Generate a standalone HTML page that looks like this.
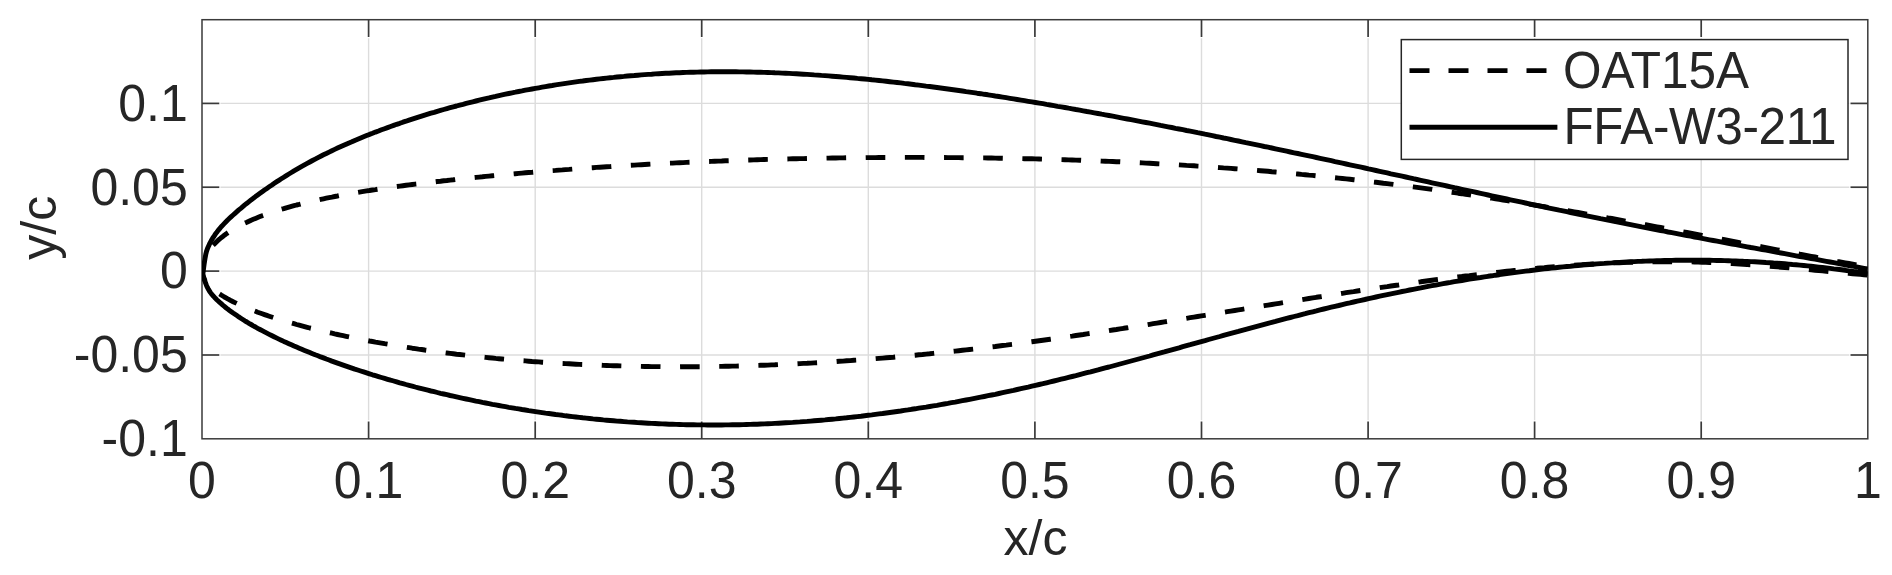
<!DOCTYPE html>
<html lang="en">
<head>
<meta charset="utf-8">
<title>Airfoil comparison: OAT15A vs FFA-W3-211</title>
<style>
html,body{margin:0;padding:0;background:#fff;}
body{width:1892px;height:575px;overflow:hidden;}
svg{display:block;}
text{font-family:"Liberation Sans",Arial,Helvetica,sans-serif;fill:#262626;}
.tick{font-size:50.0px;}
.leg{font-size:49.5px;}
.lab{font-size:50.0px;}
</style>
</head>
<body>
<svg width="1892" height="575" viewBox="0 0 1892 575">
<rect x="0" y="0" width="1892" height="575" fill="#ffffff"/>
<defs><clipPath id="ax"><rect x="202.0" y="19.7" width="1665.8" height="419.1"/></clipPath></defs>

<g stroke="#dcdcdc" stroke-width="1.4" fill="none">
<line x1="368.6" y1="38.2" x2="368.6" y2="420.3"/>
<line x1="535.2" y1="38.2" x2="535.2" y2="420.3"/>
<line x1="701.7" y1="38.2" x2="701.7" y2="420.3"/>
<line x1="868.3" y1="38.2" x2="868.3" y2="420.3"/>
<line x1="1034.9" y1="38.2" x2="1034.9" y2="420.3"/>
<line x1="1201.5" y1="38.2" x2="1201.5" y2="420.3"/>
<line x1="1368.1" y1="38.2" x2="1368.1" y2="420.3"/>
<line x1="1534.6" y1="38.2" x2="1534.6" y2="420.3"/>
<line x1="1701.2" y1="38.2" x2="1701.2" y2="420.3"/>
<line x1="220.5" y1="103.4" x2="1849.3" y2="103.4"/>
<line x1="220.5" y1="187.2" x2="1849.3" y2="187.2"/>
<line x1="220.5" y1="271.1" x2="1849.3" y2="271.1"/>
<line x1="220.5" y1="355.0" x2="1849.3" y2="355.0"/>
</g>
<g stroke="#3a3a3a" fill="none">
<rect x="202.0" y="19.7" width="1665.8" height="419.1" stroke-width="1.5"/>
<g stroke-width="1.7">
<line x1="368.6" y1="438.8" x2="368.6" y2="421.5"/>
<line x1="368.6" y1="19.7" x2="368.6" y2="37.0"/>
<line x1="535.2" y1="438.8" x2="535.2" y2="421.5"/>
<line x1="535.2" y1="19.7" x2="535.2" y2="37.0"/>
<line x1="701.7" y1="438.8" x2="701.7" y2="421.5"/>
<line x1="701.7" y1="19.7" x2="701.7" y2="37.0"/>
<line x1="868.3" y1="438.8" x2="868.3" y2="421.5"/>
<line x1="868.3" y1="19.7" x2="868.3" y2="37.0"/>
<line x1="1034.9" y1="438.8" x2="1034.9" y2="421.5"/>
<line x1="1034.9" y1="19.7" x2="1034.9" y2="37.0"/>
<line x1="1201.5" y1="438.8" x2="1201.5" y2="421.5"/>
<line x1="1201.5" y1="19.7" x2="1201.5" y2="37.0"/>
<line x1="1368.1" y1="438.8" x2="1368.1" y2="421.5"/>
<line x1="1368.1" y1="19.7" x2="1368.1" y2="37.0"/>
<line x1="1534.6" y1="438.8" x2="1534.6" y2="421.5"/>
<line x1="1534.6" y1="19.7" x2="1534.6" y2="37.0"/>
<line x1="1701.2" y1="438.8" x2="1701.2" y2="421.5"/>
<line x1="1701.2" y1="19.7" x2="1701.2" y2="37.0"/>
<line x1="202.0" y1="103.4" x2="219.3" y2="103.4"/>
<line x1="1867.8" y1="103.4" x2="1850.5" y2="103.4"/>
<line x1="202.0" y1="187.2" x2="219.3" y2="187.2"/>
<line x1="1867.8" y1="187.2" x2="1850.5" y2="187.2"/>
<line x1="202.0" y1="271.1" x2="219.3" y2="271.1"/>
<line x1="1867.8" y1="271.1" x2="1850.5" y2="271.1"/>
<line x1="202.0" y1="355.0" x2="219.3" y2="355.0"/>
<line x1="1867.8" y1="355.0" x2="1850.5" y2="355.0"/>
</g></g>
<g clip-path="url(#ax)" fill="none" stroke="#000" stroke-width="4.9" stroke-linejoin="round">
<path d="M1867.8,267.1 L1864.0,266.3 L1860.3,265.6 L1856.5,264.9 L1852.7,264.2 L1848.9,263.5 L1845.2,262.8 L1841.4,262.1 L1837.6,261.4 L1833.8,260.6 L1830.1,259.9 L1826.3,259.2 L1822.5,258.5 L1818.8,257.8 L1815.0,257.0 L1811.2,256.3 L1807.5,255.6 L1803.7,254.9 L1799.9,254.2 L1796.1,253.4 L1792.4,252.7 L1788.6,252.0 L1784.8,251.3 L1781.1,250.5 L1777.3,249.8 L1773.5,249.1 L1769.8,248.4 L1766.0,247.6 L1762.2,246.9 L1758.5,246.2 L1754.7,245.5 L1750.9,244.7 L1747.2,244.0 L1743.4,243.3 L1739.6,242.6 L1735.9,241.8 L1732.1,241.1 L1728.3,240.4 L1724.6,239.7 L1720.8,238.9 L1717.0,238.2 L1713.3,237.5 L1709.5,236.8 L1705.8,236.1 L1702.0,235.4 L1698.2,234.6 L1694.5,233.9 L1690.7,233.2 L1686.9,232.5 L1683.2,231.8 L1679.4,231.1 L1675.7,230.4 L1671.9,229.7 L1668.1,228.9 L1664.4,228.2 L1660.6,227.5 L1656.9,226.8 L1653.1,226.1 L1649.4,225.4 L1645.6,224.7 L1641.8,224.0 L1638.1,223.3 L1634.3,222.7 L1630.6,222.0 L1626.8,221.3 L1623.1,220.6 L1619.3,219.9 L1615.5,219.2 L1611.8,218.5 L1608.0,217.9 L1604.3,217.2 L1600.5,216.5 L1596.8,215.8 L1593.0,215.2 L1589.3,214.5 L1585.5,213.8 L1581.8,213.2 L1578.0,212.5 L1574.3,211.9 L1570.5,211.2 L1566.8,210.6 L1563.0,209.9 L1559.2,209.3 L1555.5,208.6 L1551.7,208.0 L1548.0,207.4 L1544.3,206.7 L1540.5,206.1 L1536.8,205.5 L1533.0,204.8 L1529.3,204.2 L1525.5,203.6 L1521.8,203.0 L1518.0,202.4 L1514.3,201.8 L1510.5,201.2 L1506.8,200.6 L1503.0,200.0 L1499.3,199.4 L1495.6,198.8 L1491.8,198.2 L1488.1,197.6 L1484.3,197.1 L1480.6,196.5 L1476.8,195.9 L1473.1,195.4 L1469.4,194.8 L1465.6,194.3 L1461.9,193.7 L1458.1,193.2 L1454.4,192.6 L1450.7,192.1 L1446.9,191.5 L1443.2,191.0 L1439.4,190.5 L1435.7,190.0 L1432.0,189.4 L1428.2,188.9 L1424.5,188.4 L1420.8,187.9 L1417.0,187.4 L1413.3,186.9 L1409.6,186.5 L1405.8,186.0 L1402.1,185.5 L1398.4,185.0 L1394.6,184.6 L1390.9,184.1 L1387.2,183.6 L1383.4,183.2 L1379.7,182.7 L1376.0,182.3 L1372.2,181.9 L1368.5,181.4 L1364.8,181.0 L1361.1,180.6 L1357.3,180.1 L1353.6,179.7 L1349.9,179.3 L1346.2,178.9 L1342.4,178.5 L1338.7,178.1 L1335.0,177.7 L1331.3,177.3 L1327.5,176.9 L1323.8,176.5 L1320.1,176.2 L1316.4,175.8 L1312.7,175.4 L1308.9,175.1 L1305.2,174.7 L1301.5,174.4 L1297.8,174.0 L1294.1,173.7 L1290.3,173.3 L1286.6,173.0 L1282.9,172.6 L1279.2,172.3 L1275.5,172.0 L1271.8,171.7 L1268.0,171.3 L1264.3,171.0 L1260.6,170.7 L1256.9,170.4 L1253.2,170.1 L1249.5,169.8 L1245.8,169.5 L1242.1,169.2 L1238.4,169.0 L1234.7,168.7 L1230.9,168.4 L1227.2,168.1 L1223.5,167.9 L1219.8,167.6 L1216.1,167.3 L1212.4,167.1 L1208.7,166.8 L1205.0,166.6 L1201.3,166.3 L1197.6,166.1 L1193.9,165.8 L1190.2,165.6 L1186.5,165.4 L1182.8,165.1 L1179.1,164.9 L1175.4,164.7 L1171.7,164.5 L1168.0,164.3 L1164.3,164.1 L1160.6,163.9 L1156.9,163.7 L1153.2,163.5 L1149.6,163.3 L1145.9,163.1 L1142.2,162.9 L1138.5,162.7 L1134.8,162.5 L1131.1,162.3 L1127.4,162.2 L1123.7,162.0 L1120.0,161.8 L1116.4,161.7 L1112.7,161.5 L1109.0,161.4 L1105.3,161.2 L1101.6,161.1 L1098.0,160.9 L1094.3,160.8 L1090.6,160.6 L1086.9,160.5 L1083.2,160.4 L1079.6,160.2 L1075.9,160.1 L1072.2,160.0 L1068.5,159.9 L1064.9,159.7 L1061.2,159.6 L1057.5,159.5 L1053.9,159.4 L1050.2,159.3 L1046.5,159.2 L1042.9,159.1 L1039.2,159.0 L1035.5,158.9 L1031.9,158.8 L1028.2,158.7 L1024.5,158.7 L1020.9,158.6 L1017.2,158.5 L1013.6,158.4 L1009.9,158.3 L1006.2,158.3 L1002.6,158.2 L998.9,158.2 L995.3,158.1 L991.6,158.0 L988.0,158.0 L984.3,157.9 L980.7,157.9 L977.0,157.8 L973.4,157.8 L969.7,157.7 L966.1,157.7 L962.4,157.7 L958.8,157.6 L955.2,157.6 L951.5,157.6 L947.9,157.6 L944.2,157.5 L940.6,157.5 L937.0,157.5 L933.3,157.5 L929.7,157.5 L926.1,157.5 L922.5,157.4 L918.8,157.4 L915.2,157.4 L911.6,157.4 L907.9,157.4 L904.3,157.4 L900.7,157.4 L897.1,157.5 L893.5,157.5 L889.8,157.5 L886.2,157.5 L882.6,157.5 L879.0,157.5 L875.4,157.6 L871.8,157.6 L868.2,157.6 L864.6,157.7 L861.0,157.7 L857.4,157.7 L853.8,157.8 L850.2,157.8 L846.6,157.8 L843.0,157.9 L839.4,157.9 L835.8,158.0 L832.2,158.0 L828.6,158.1 L825.0,158.2 L821.4,158.2 L817.8,158.3 L814.2,158.4 L810.7,158.4 L807.1,158.5 L803.5,158.6 L799.9,158.6 L796.4,158.7 L792.8,158.8 L789.2,158.9 L785.6,159.0 L782.1,159.1 L778.5,159.1 L774.9,159.2 L771.4,159.3 L767.8,159.4 L764.3,159.5 L760.7,159.6 L757.2,159.7 L753.6,159.9 L750.1,160.0 L746.5,160.1 L743.0,160.2 L739.4,160.3 L735.9,160.4 L732.3,160.6 L728.8,160.7 L725.3,160.8 L721.7,161.0 L718.2,161.1 L714.7,161.2 L711.2,161.4 L707.6,161.5 L704.1,161.7 L700.6,161.8 L697.1,161.9 L693.6,162.1 L690.1,162.3 L686.6,162.4 L683.1,162.6 L679.6,162.7 L676.1,162.9 L672.6,163.1 L669.1,163.2 L665.6,163.4 L662.1,163.6 L658.6,163.8 L655.1,164.0 L651.6,164.1 L648.2,164.3 L644.7,164.5 L641.2,164.7 L637.8,164.9 L634.3,165.1 L630.8,165.3 L627.4,165.5 L623.9,165.7 L620.5,165.9 L617.0,166.1 L613.6,166.3 L610.1,166.6 L606.7,166.8 L603.3,167.0 L599.8,167.2 L596.4,167.4 L593.0,167.7 L589.6,167.9 L586.2,168.1 L582.7,168.4 L579.3,168.6 L575.9,168.9 L572.5,169.1 L569.1,169.4 L565.7,169.6 L562.4,169.9 L559.0,170.1 L555.6,170.4 L552.2,170.6 L548.8,170.9 L545.5,171.2 L542.1,171.4 L538.8,171.7 L535.4,172.0 L532.1,172.3 L528.7,172.5 L525.4,172.8 L522.0,173.1 L518.7,173.4 L515.4,173.7 L512.1,174.0 L508.8,174.3 L505.5,174.6 L502.1,174.9 L498.9,175.2 L495.6,175.5 L492.3,175.8 L489.0,176.1 L485.7,176.4 L482.4,176.8 L479.2,177.1 L475.9,177.4 L472.7,177.7 L469.4,178.1 L466.2,178.4 L463.0,178.7 L459.7,179.1 L456.5,179.4 L453.3,179.8 L450.1,180.1 L446.9,180.5 L443.7,180.8 L440.5,181.2 L437.3,181.5 L434.2,181.9 L431.0,182.3 L427.8,182.6 L424.7,183.0 L421.6,183.4 L418.4,183.8 L415.3,184.1 L412.2,184.5 L409.1,184.9 L406.0,185.3 L402.9,185.7 L399.8,186.1 L396.7,186.5 L393.7,187.0 L390.6,187.4 L387.6,187.8 L384.6,188.2 L381.5,188.7 L378.5,189.1 L375.5,189.6 L372.5,190.0 L369.5,190.5 L366.6,190.9 L363.6,191.4 L360.7,191.9 L357.7,192.4 L354.8,192.9 L351.9,193.4 L349.0,193.9 L346.1,194.4 L343.2,194.9 L340.4,195.4 L337.5,196.0 L334.7,196.5 L331.9,197.1 L329.1,197.6 L326.3,198.2 L323.5,198.8 L320.7,199.4 L318.0,200.0 L315.2,200.6 L312.5,201.2 L309.8,201.8 L307.2,202.4 L304.5,203.0 L301.8,203.7 L299.2,204.4 L296.6,205.0 L294.0,205.7 L291.4,206.4 L288.9,207.1 L286.3,207.8 L283.8,208.6 L281.3,209.3 L278.9,210.0 L276.4,210.8 L274.0,211.6 L271.6,212.4 L269.2,213.2 L266.9,214.0 L264.5,214.9 L262.2,215.7 L260.0,216.6 L257.7,217.5 L255.5,218.4 L253.3,219.3 L251.1,220.2 L249.0,221.2 L246.9,222.2 L244.8,223.1 L242.8,224.1 L240.8,225.2 L238.8,226.2 L236.9,227.3 L235.0,228.3 L233.1,229.4 L231.3,230.6 L229.5,231.7 L227.7,232.9 L226.0,234.0 L224.4,235.2 L222.8,236.5 L221.2,237.7 L219.7,239.0 L218.2,240.2 L216.8,241.6 L215.4,242.9 L214.1,244.2 L212.8,245.6 L211.6,247.0 L210.5,248.4 L209.4,249.9 L208.4,251.4 L207.4,252.9 L206.5,254.4 L205.7,255.9 L205.0,257.5 L204.3,259.1 L203.7,260.8 L203.2,262.4 L202.8,264.1 L202.4,265.8 L202.2,267.5 L202.1,269.3 L202.0,271.1 L202.1,272.3 L202.2,273.5 L202.4,274.7 L202.8,275.8 L203.2,277.0 L203.7,278.1 L204.3,279.2 L205.0,280.4 L205.7,281.5 L206.5,282.6 L207.4,283.7 L208.4,284.7 L209.4,285.8 L210.5,286.9 L211.6,287.9 L212.8,289.0 L214.1,290.0 L215.4,291.0 L216.8,292.0 L218.2,293.1 L219.7,294.0 L221.2,295.0 L222.8,296.0 L224.4,297.0 L226.0,297.9 L227.7,298.9 L229.5,299.8 L231.3,300.8 L233.1,301.7 L235.0,302.6 L236.9,303.5 L238.8,304.4 L240.8,305.3 L242.8,306.2 L244.8,307.1 L246.9,307.9 L249.0,308.8 L251.1,309.7 L253.3,310.5 L255.5,311.3 L257.7,312.2 L260.0,313.0 L262.2,313.8 L264.5,314.6 L266.9,315.4 L269.2,316.2 L271.6,317.0 L274.0,317.8 L276.4,318.5 L278.9,319.3 L281.3,320.1 L283.8,320.8 L286.3,321.5 L288.9,322.3 L291.4,323.0 L294.0,323.7 L296.6,324.5 L299.2,325.2 L301.8,325.9 L304.5,326.6 L307.2,327.3 L309.8,328.0 L312.5,328.6 L315.2,329.3 L318.0,330.0 L320.7,330.6 L323.5,331.3 L326.3,331.9 L329.1,332.6 L331.9,333.2 L334.7,333.9 L337.5,334.5 L340.4,335.1 L343.2,335.7 L346.1,336.3 L349.0,336.9 L351.9,337.5 L354.8,338.1 L357.7,338.7 L360.7,339.3 L363.6,339.8 L366.6,340.4 L369.5,341.0 L372.5,341.5 L375.5,342.1 L378.5,342.6 L381.5,343.1 L384.6,343.7 L387.6,344.2 L390.6,344.7 L393.7,345.2 L396.7,345.7 L399.8,346.2 L402.9,346.7 L406.0,347.2 L409.1,347.7 L412.2,348.2 L415.3,348.6 L418.4,349.1 L421.6,349.5 L424.7,350.0 L427.8,350.4 L431.0,350.9 L434.2,351.3 L437.3,351.7 L440.5,352.2 L443.7,352.6 L446.9,353.0 L450.1,353.4 L453.3,353.8 L456.5,354.2 L459.7,354.5 L463.0,354.9 L466.2,355.3 L469.4,355.7 L472.7,356.0 L475.9,356.4 L479.2,356.7 L482.4,357.1 L485.7,357.4 L489.0,357.7 L492.3,358.0 L495.6,358.4 L498.9,358.7 L502.1,359.0 L505.5,359.3 L508.8,359.6 L512.1,359.9 L515.4,360.1 L518.7,360.4 L522.0,360.7 L525.4,360.9 L528.7,361.2 L532.1,361.5 L535.4,361.7 L538.8,361.9 L542.1,362.2 L545.5,362.4 L548.8,362.6 L552.2,362.8 L555.6,363.1 L559.0,363.3 L562.4,363.5 L565.7,363.6 L569.1,363.8 L572.5,364.0 L575.9,364.2 L579.3,364.4 L582.7,364.5 L586.2,364.7 L589.6,364.8 L593.0,365.0 L596.4,365.1 L599.8,365.2 L603.3,365.4 L606.7,365.5 L610.1,365.6 L613.6,365.7 L617.0,365.8 L620.5,365.9 L623.9,366.0 L627.4,366.1 L630.8,366.2 L634.3,366.3 L637.8,366.3 L641.2,366.4 L644.7,366.5 L648.2,366.5 L651.6,366.6 L655.1,366.6 L658.6,366.6 L662.1,366.7 L665.6,366.7 L669.1,366.7 L672.6,366.7 L676.1,366.7 L679.6,366.8 L683.1,366.7 L686.6,366.7 L690.1,366.7 L693.6,366.7 L697.1,366.7 L700.6,366.7 L704.1,366.6 L707.6,366.6 L711.2,366.5 L714.7,366.5 L718.2,366.4 L721.7,366.4 L725.3,366.3 L728.8,366.2 L732.3,366.1 L735.9,366.1 L739.4,366.0 L743.0,365.9 L746.5,365.8 L750.1,365.7 L753.6,365.6 L757.2,365.4 L760.7,365.3 L764.3,365.2 L767.8,365.1 L771.4,364.9 L774.9,364.8 L778.5,364.6 L782.1,364.5 L785.6,364.3 L789.2,364.2 L792.8,364.0 L796.4,363.8 L799.9,363.6 L803.5,363.4 L807.1,363.3 L810.7,363.1 L814.2,362.9 L817.8,362.7 L821.4,362.4 L825.0,362.2 L828.6,362.0 L832.2,361.8 L835.8,361.6 L839.4,361.3 L843.0,361.1 L846.6,360.8 L850.2,360.6 L853.8,360.3 L857.4,360.1 L861.0,359.8 L864.6,359.5 L868.2,359.2 L871.8,359.0 L875.4,358.7 L879.0,358.4 L882.6,358.1 L886.2,357.8 L889.8,357.5 L893.5,357.2 L897.1,356.8 L900.7,356.5 L904.3,356.2 L907.9,355.9 L911.6,355.5 L915.2,355.2 L918.8,354.8 L922.5,354.5 L926.1,354.1 L929.7,353.8 L933.3,353.4 L937.0,353.0 L940.6,352.7 L944.2,352.3 L947.9,351.9 L951.5,351.5 L955.2,351.1 L958.8,350.7 L962.4,350.3 L966.1,349.9 L969.7,349.5 L973.4,349.1 L977.0,348.6 L980.7,348.2 L984.3,347.8 L988.0,347.3 L991.6,346.9 L995.3,346.5 L998.9,346.0 L1002.6,345.5 L1006.2,345.1 L1009.9,344.6 L1013.6,344.2 L1017.2,343.7 L1020.9,343.2 L1024.5,342.7 L1028.2,342.2 L1031.9,341.7 L1035.5,341.2 L1039.2,340.7 L1042.9,340.2 L1046.5,339.7 L1050.2,339.2 L1053.9,338.7 L1057.5,338.2 L1061.2,337.7 L1064.9,337.1 L1068.5,336.6 L1072.2,336.1 L1075.9,335.5 L1079.6,335.0 L1083.2,334.5 L1086.9,333.9 L1090.6,333.4 L1094.3,332.8 L1098.0,332.3 L1101.6,331.7 L1105.3,331.2 L1109.0,330.6 L1112.7,330.0 L1116.4,329.5 L1120.0,328.9 L1123.7,328.3 L1127.4,327.8 L1131.1,327.2 L1134.8,326.6 L1138.5,326.0 L1142.2,325.4 L1145.9,324.9 L1149.6,324.3 L1153.2,323.7 L1156.9,323.1 L1160.6,322.5 L1164.3,321.9 L1168.0,321.3 L1171.7,320.7 L1175.4,320.1 L1179.1,319.5 L1182.8,318.9 L1186.5,318.3 L1190.2,317.7 L1193.9,317.1 L1197.6,316.5 L1201.3,315.9 L1205.0,315.3 L1208.7,314.7 L1212.4,314.1 L1216.1,313.5 L1219.8,312.9 L1223.5,312.3 L1227.2,311.7 L1230.9,311.1 L1234.7,310.5 L1238.4,309.9 L1242.1,309.3 L1245.8,308.7 L1249.5,308.1 L1253.2,307.5 L1256.9,306.9 L1260.6,306.3 L1264.3,305.7 L1268.0,305.1 L1271.8,304.5 L1275.5,303.9 L1279.2,303.3 L1282.9,302.7 L1286.6,302.1 L1290.3,301.5 L1294.1,300.9 L1297.8,300.3 L1301.5,299.7 L1305.2,299.1 L1308.9,298.5 L1312.7,297.9 L1316.4,297.3 L1320.1,296.8 L1323.8,296.2 L1327.5,295.6 L1331.3,295.0 L1335.0,294.4 L1338.7,293.9 L1342.4,293.3 L1346.2,292.7 L1349.9,292.1 L1353.6,291.6 L1357.3,291.0 L1361.1,290.4 L1364.8,289.9 L1368.5,289.3 L1372.2,288.8 L1376.0,288.2 L1379.7,287.7 L1383.4,287.1 L1387.2,286.6 L1390.9,286.0 L1394.6,285.5 L1398.4,285.0 L1402.1,284.4 L1405.8,283.9 L1409.6,283.4 L1413.3,282.9 L1417.0,282.4 L1420.8,281.8 L1424.5,281.3 L1428.2,280.8 L1432.0,280.3 L1435.7,279.8 L1439.4,279.3 L1443.2,278.9 L1446.9,278.4 L1450.7,277.9 L1454.4,277.4 L1458.1,276.9 L1461.9,276.5 L1465.6,276.0 L1469.4,275.6 L1473.1,275.1 L1476.8,274.6 L1480.6,274.2 L1484.3,273.8 L1488.1,273.3 L1491.8,272.9 L1495.6,272.5 L1499.3,272.1 L1503.0,271.7 L1506.8,271.3 L1510.5,270.9 L1514.3,270.5 L1518.0,270.1 L1521.8,269.7 L1525.5,269.3 L1529.3,269.0 L1533.0,268.6 L1536.8,268.3 L1540.5,267.9 L1544.3,267.6 L1548.0,267.2 L1551.7,266.9 L1555.5,266.6 L1559.2,266.3 L1563.0,266.0 L1566.8,265.7 L1570.5,265.5 L1574.3,265.2 L1578.0,264.9 L1581.8,264.7 L1585.5,264.4 L1589.3,264.2 L1593.0,264.0 L1596.8,263.8 L1600.5,263.6 L1604.3,263.4 L1608.0,263.2 L1611.8,263.0 L1615.5,262.8 L1619.3,262.7 L1623.1,262.5 L1626.8,262.4 L1630.6,262.3 L1634.3,262.2 L1638.1,262.1 L1641.8,262.0 L1645.6,261.9 L1649.4,261.8 L1653.1,261.8 L1656.9,261.7 L1660.6,261.7 L1664.4,261.7 L1668.1,261.7 L1671.9,261.7 L1675.7,261.7 L1679.4,261.8 L1683.2,261.8 L1686.9,261.9 L1690.7,261.9 L1694.5,262.0 L1698.2,262.1 L1702.0,262.2 L1705.8,262.4 L1709.5,262.5 L1713.3,262.7 L1717.0,262.8 L1720.8,263.0 L1724.6,263.2 L1728.3,263.4 L1732.1,263.6 L1735.9,263.8 L1739.6,264.1 L1743.4,264.3 L1747.2,264.6 L1750.9,264.8 L1754.7,265.1 L1758.5,265.4 L1762.2,265.7 L1766.0,266.0 L1769.8,266.3 L1773.5,266.6 L1777.3,266.9 L1781.1,267.2 L1784.8,267.5 L1788.6,267.8 L1792.4,268.2 L1796.1,268.5 L1799.9,268.8 L1803.7,269.2 L1807.5,269.5 L1811.2,269.9 L1815.0,270.2 L1818.8,270.6 L1822.5,270.9 L1826.3,271.3 L1830.1,271.6 L1833.8,272.0 L1837.6,272.3 L1841.4,272.7 L1845.2,273.0 L1848.9,273.3 L1852.7,273.7 L1856.5,274.0 L1860.3,274.4 L1864.0,274.7 L1867.8,275.0" stroke-dasharray="19.6 19.57" stroke-dashoffset="27.55"/>
<path d="M1867.8,269.0 L1864.0,268.3 L1860.3,267.6 L1856.5,266.9 L1852.7,266.2 L1848.9,265.5 L1845.2,264.8 L1841.4,264.1 L1837.6,263.4 L1833.8,262.7 L1830.1,262.0 L1826.3,261.3 L1822.5,260.6 L1818.8,259.9 L1815.0,259.2 L1811.2,258.5 L1807.5,257.8 L1803.7,257.1 L1799.9,256.5 L1796.1,255.8 L1792.4,255.1 L1788.6,254.4 L1784.8,253.7 L1781.1,253.0 L1777.3,252.3 L1773.5,251.6 L1769.8,250.9 L1766.0,250.2 L1762.2,249.5 L1758.5,248.8 L1754.7,248.1 L1750.9,247.5 L1747.2,246.8 L1743.4,246.1 L1739.6,245.4 L1735.9,244.7 L1732.1,244.0 L1728.3,243.3 L1724.6,242.6 L1720.8,241.9 L1717.0,241.2 L1713.3,240.5 L1709.5,239.8 L1705.8,239.1 L1702.0,238.4 L1698.2,237.7 L1694.5,237.0 L1690.7,236.2 L1686.9,235.5 L1683.2,234.8 L1679.4,234.1 L1675.7,233.4 L1671.9,232.7 L1668.1,232.0 L1664.4,231.2 L1660.6,230.5 L1656.9,229.8 L1653.1,229.1 L1649.4,228.3 L1645.6,227.6 L1641.8,226.9 L1638.1,226.1 L1634.3,225.4 L1630.6,224.7 L1626.8,223.9 L1623.1,223.2 L1619.3,222.4 L1615.5,221.7 L1611.8,220.9 L1608.0,220.2 L1604.3,219.4 L1600.5,218.7 L1596.8,217.9 L1593.0,217.1 L1589.3,216.4 L1585.5,215.6 L1581.8,214.8 L1578.0,214.0 L1574.3,213.3 L1570.5,212.5 L1566.8,211.7 L1563.0,210.9 L1559.2,210.2 L1555.5,209.4 L1551.7,208.6 L1548.0,207.8 L1544.3,207.0 L1540.5,206.2 L1536.8,205.4 L1533.0,204.6 L1529.3,203.8 L1525.5,203.0 L1521.8,202.2 L1518.0,201.4 L1514.3,200.6 L1510.5,199.8 L1506.8,199.0 L1503.0,198.2 L1499.3,197.4 L1495.6,196.6 L1491.8,195.8 L1488.1,195.0 L1484.3,194.2 L1480.6,193.4 L1476.8,192.5 L1473.1,191.7 L1469.4,190.9 L1465.6,190.1 L1461.9,189.3 L1458.1,188.5 L1454.4,187.7 L1450.7,186.8 L1446.9,186.0 L1443.2,185.2 L1439.4,184.4 L1435.7,183.6 L1432.0,182.8 L1428.2,181.9 L1424.5,181.1 L1420.8,180.3 L1417.0,179.5 L1413.3,178.7 L1409.6,177.8 L1405.8,177.0 L1402.1,176.2 L1398.4,175.4 L1394.6,174.6 L1390.9,173.8 L1387.2,172.9 L1383.4,172.1 L1379.7,171.3 L1376.0,170.5 L1372.2,169.7 L1368.5,168.9 L1364.8,168.0 L1361.1,167.2 L1357.3,166.4 L1353.6,165.6 L1349.9,164.8 L1346.2,164.0 L1342.4,163.2 L1338.7,162.4 L1335.0,161.6 L1331.3,160.7 L1327.5,159.9 L1323.8,159.1 L1320.1,158.3 L1316.4,157.5 L1312.7,156.7 L1308.9,155.9 L1305.2,155.1 L1301.5,154.3 L1297.8,153.5 L1294.1,152.8 L1290.3,152.0 L1286.6,151.2 L1282.9,150.4 L1279.2,149.6 L1275.5,148.8 L1271.8,148.0 L1268.0,147.2 L1264.3,146.5 L1260.6,145.7 L1256.9,144.9 L1253.2,144.1 L1249.5,143.3 L1245.8,142.6 L1242.1,141.8 L1238.4,141.0 L1234.7,140.3 L1230.9,139.5 L1227.2,138.7 L1223.5,138.0 L1219.8,137.2 L1216.1,136.5 L1212.4,135.7 L1208.7,134.9 L1205.0,134.2 L1201.3,133.4 L1197.6,132.7 L1193.9,131.9 L1190.2,131.2 L1186.5,130.5 L1182.8,129.7 L1179.1,129.0 L1175.4,128.3 L1171.7,127.5 L1168.0,126.8 L1164.3,126.1 L1160.6,125.4 L1156.9,124.6 L1153.2,123.9 L1149.6,123.2 L1145.9,122.5 L1142.2,121.8 L1138.5,121.1 L1134.8,120.4 L1131.1,119.7 L1127.4,119.0 L1123.7,118.3 L1120.0,117.6 L1116.4,116.9 L1112.7,116.2 L1109.0,115.5 L1105.3,114.8 L1101.6,114.2 L1098.0,113.5 L1094.3,112.8 L1090.6,112.1 L1086.9,111.5 L1083.2,110.8 L1079.6,110.1 L1075.9,109.5 L1072.2,108.8 L1068.5,108.2 L1064.9,107.5 L1061.2,106.9 L1057.5,106.3 L1053.9,105.6 L1050.2,105.0 L1046.5,104.4 L1042.9,103.7 L1039.2,103.1 L1035.5,102.5 L1031.9,101.9 L1028.2,101.3 L1024.5,100.7 L1020.9,100.1 L1017.2,99.5 L1013.6,98.9 L1009.9,98.3 L1006.2,97.7 L1002.6,97.1 L998.9,96.5 L995.3,96.0 L991.6,95.4 L988.0,94.8 L984.3,94.3 L980.7,93.7 L977.0,93.2 L973.4,92.6 L969.7,92.1 L966.1,91.6 L962.4,91.0 L958.8,90.5 L955.2,90.0 L951.5,89.5 L947.9,89.0 L944.2,88.5 L940.6,88.0 L937.0,87.5 L933.3,87.0 L929.7,86.5 L926.1,86.1 L922.5,85.6 L918.8,85.1 L915.2,84.7 L911.6,84.2 L907.9,83.8 L904.3,83.4 L900.7,82.9 L897.1,82.5 L893.5,82.1 L889.8,81.7 L886.2,81.3 L882.6,80.9 L879.0,80.5 L875.4,80.1 L871.8,79.8 L868.2,79.4 L864.6,79.0 L861.0,78.7 L857.4,78.4 L853.8,78.0 L850.2,77.7 L846.6,77.4 L843.0,77.1 L839.4,76.8 L835.8,76.5 L832.2,76.2 L828.6,75.9 L825.0,75.6 L821.4,75.4 L817.8,75.1 L814.2,74.9 L810.7,74.6 L807.1,74.4 L803.5,74.2 L799.9,74.0 L796.4,73.8 L792.8,73.6 L789.2,73.4 L785.6,73.2 L782.1,73.1 L778.5,72.9 L774.9,72.8 L771.4,72.6 L767.8,72.5 L764.3,72.4 L760.7,72.3 L757.2,72.2 L753.6,72.1 L750.1,72.0 L746.5,72.0 L743.0,71.9 L739.4,71.9 L735.9,71.8 L732.3,71.8 L728.8,71.8 L725.3,71.8 L721.7,71.8 L718.2,71.8 L714.7,71.8 L711.2,71.8 L707.6,71.9 L704.1,72.0 L700.6,72.0 L697.1,72.1 L693.6,72.2 L690.1,72.3 L686.6,72.4 L683.1,72.5 L679.6,72.7 L676.1,72.8 L672.6,73.0 L669.1,73.2 L665.6,73.3 L662.1,73.5 L658.6,73.7 L655.1,73.9 L651.6,74.2 L648.2,74.4 L644.7,74.6 L641.2,74.9 L637.8,75.2 L634.3,75.5 L630.8,75.7 L627.4,76.0 L623.9,76.4 L620.5,76.7 L617.0,77.0 L613.6,77.4 L610.1,77.7 L606.7,78.1 L603.3,78.5 L599.8,78.9 L596.4,79.3 L593.0,79.7 L589.6,80.1 L586.2,80.5 L582.7,81.0 L579.3,81.4 L575.9,81.9 L572.5,82.4 L569.1,82.9 L565.7,83.4 L562.4,83.9 L559.0,84.4 L555.6,84.9 L552.2,85.5 L548.8,86.0 L545.5,86.6 L542.1,87.2 L538.8,87.8 L535.4,88.4 L532.1,89.0 L528.7,89.6 L525.4,90.2 L522.0,90.9 L518.7,91.5 L515.4,92.2 L512.1,92.8 L508.8,93.5 L505.5,94.2 L502.1,94.9 L498.9,95.6 L495.6,96.4 L492.3,97.1 L489.0,97.9 L485.7,98.6 L482.4,99.4 L479.2,100.2 L475.9,101.0 L472.7,101.8 L469.4,102.6 L466.2,103.4 L463.0,104.3 L459.7,105.1 L456.5,106.0 L453.3,106.8 L450.1,107.7 L446.9,108.6 L443.7,109.5 L440.5,110.4 L437.3,111.3 L434.2,112.3 L431.0,113.2 L427.8,114.2 L424.7,115.1 L421.6,116.1 L418.4,117.1 L415.3,118.1 L412.2,119.1 L409.1,120.1 L406.0,121.2 L402.9,122.2 L399.8,123.3 L396.7,124.3 L393.7,125.4 L390.6,126.5 L387.6,127.6 L384.6,128.7 L381.5,129.8 L378.5,131.0 L375.5,132.1 L372.5,133.3 L369.5,134.4 L366.6,135.6 L363.6,136.8 L360.7,138.0 L357.7,139.2 L354.8,140.4 L351.9,141.7 L349.0,142.9 L346.1,144.2 L343.2,145.5 L340.4,146.8 L337.5,148.1 L334.7,149.4 L331.9,150.7 L329.1,152.1 L326.3,153.5 L323.5,154.8 L320.7,156.2 L318.0,157.6 L315.2,159.1 L312.5,160.5 L309.8,162.0 L307.2,163.4 L304.5,164.9 L301.8,166.4 L299.2,167.9 L296.6,169.4 L294.0,170.9 L291.4,172.5 L288.9,174.0 L286.3,175.6 L283.8,177.2 L281.3,178.8 L278.9,180.3 L276.4,181.9 L274.0,183.5 L271.6,185.2 L269.2,186.8 L266.9,188.4 L264.5,190.0 L262.2,191.7 L260.0,193.3 L257.7,195.0 L255.5,196.6 L253.3,198.3 L251.1,199.9 L249.0,201.6 L246.9,203.3 L244.8,204.9 L242.8,206.6 L240.8,208.3 L238.8,209.9 L236.9,211.6 L235.0,213.3 L233.1,215.0 L231.3,216.6 L229.5,218.3 L227.7,220.0 L226.0,221.7 L224.4,223.4 L222.8,225.1 L221.2,226.8 L219.7,228.6 L218.2,230.4 L216.8,232.3 L215.4,234.1 L214.1,236.1 L212.8,238.0 L211.6,240.0 L210.5,242.1 L209.4,244.2 L208.4,246.4 L207.4,248.8 L206.5,251.4 L205.7,254.7 L205.0,258.6 L204.3,263.0 L203.7,267.4 L203.2,271.5 L202.8,274.7 L202.4,276.7 L202.2,277.0 L202.1,275.3 L202.0,271.1 L202.1,271.2 L202.2,271.7 L202.4,272.6 L202.8,273.9 L203.2,275.5 L203.7,277.3 L204.3,279.2 L205.0,281.3 L205.7,283.4 L206.5,285.4 L207.4,287.4 L208.4,289.3 L209.4,291.0 L210.5,292.6 L211.6,294.1 L212.8,295.5 L214.1,296.9 L215.4,298.3 L216.8,299.7 L218.2,301.0 L219.7,302.4 L221.2,303.7 L222.8,305.1 L224.4,306.4 L226.0,307.8 L227.7,309.1 L229.5,310.4 L231.3,311.7 L233.1,313.0 L235.0,314.3 L236.9,315.6 L238.8,316.9 L240.8,318.2 L242.8,319.5 L244.8,320.8 L246.9,322.0 L249.0,323.3 L251.1,324.5 L253.3,325.8 L255.5,327.0 L257.7,328.3 L260.0,329.5 L262.2,330.7 L264.5,331.9 L266.9,333.1 L269.2,334.3 L271.6,335.5 L274.0,336.7 L276.4,337.9 L278.9,339.1 L281.3,340.2 L283.8,341.4 L286.3,342.5 L288.9,343.7 L291.4,344.8 L294.0,346.0 L296.6,347.1 L299.2,348.2 L301.8,349.3 L304.5,350.4 L307.2,351.5 L309.8,352.6 L312.5,353.7 L315.2,354.8 L318.0,355.8 L320.7,356.9 L323.5,357.9 L326.3,359.0 L329.1,360.0 L331.9,361.1 L334.7,362.1 L337.5,363.1 L340.4,364.1 L343.2,365.1 L346.1,366.1 L349.0,367.1 L351.9,368.1 L354.8,369.1 L357.7,370.0 L360.7,371.0 L363.6,371.9 L366.6,372.9 L369.5,373.8 L372.5,374.8 L375.5,375.7 L378.5,376.6 L381.5,377.5 L384.6,378.4 L387.6,379.3 L390.6,380.2 L393.7,381.0 L396.7,381.9 L399.8,382.8 L402.9,383.6 L406.0,384.5 L409.1,385.3 L412.2,386.1 L415.3,387.0 L418.4,387.8 L421.6,388.6 L424.7,389.4 L427.8,390.2 L431.0,391.0 L434.2,391.7 L437.3,392.5 L440.5,393.3 L443.7,394.0 L446.9,394.7 L450.1,395.5 L453.3,396.2 L456.5,396.9 L459.7,397.6 L463.0,398.3 L466.2,399.0 L469.4,399.7 L472.7,400.4 L475.9,401.1 L479.2,401.7 L482.4,402.4 L485.7,403.0 L489.0,403.6 L492.3,404.3 L495.6,404.9 L498.9,405.5 L502.1,406.1 L505.5,406.7 L508.8,407.3 L512.1,407.8 L515.4,408.4 L518.7,408.9 L522.0,409.5 L525.4,410.0 L528.7,410.6 L532.1,411.1 L535.4,411.6 L538.8,412.1 L542.1,412.6 L545.5,413.1 L548.8,413.5 L552.2,414.0 L555.6,414.5 L559.0,414.9 L562.4,415.3 L565.7,415.8 L569.1,416.2 L572.5,416.6 L575.9,417.0 L579.3,417.4 L582.7,417.8 L586.2,418.1 L589.6,418.5 L593.0,418.9 L596.4,419.2 L599.8,419.5 L603.3,419.9 L606.7,420.2 L610.1,420.5 L613.6,420.8 L617.0,421.1 L620.5,421.3 L623.9,421.6 L627.4,421.9 L630.8,422.1 L634.3,422.3 L637.8,422.6 L641.2,422.8 L644.7,423.0 L648.2,423.2 L651.6,423.4 L655.1,423.5 L658.6,423.7 L662.1,423.9 L665.6,424.0 L669.1,424.2 L672.6,424.3 L676.1,424.4 L679.6,424.5 L683.1,424.6 L686.6,424.7 L690.1,424.8 L693.6,424.8 L697.1,424.9 L700.6,424.9 L704.1,424.9 L707.6,425.0 L711.2,425.0 L714.7,425.0 L718.2,425.0 L721.7,425.0 L725.3,424.9 L728.8,424.9 L732.3,424.8 L735.9,424.8 L739.4,424.7 L743.0,424.6 L746.5,424.5 L750.1,424.4 L753.6,424.3 L757.2,424.2 L760.7,424.0 L764.3,423.9 L767.8,423.7 L771.4,423.6 L774.9,423.4 L778.5,423.2 L782.1,423.0 L785.6,422.8 L789.2,422.6 L792.8,422.4 L796.4,422.1 L799.9,421.9 L803.5,421.6 L807.1,421.4 L810.7,421.1 L814.2,420.8 L817.8,420.5 L821.4,420.2 L825.0,419.9 L828.6,419.5 L832.2,419.2 L835.8,418.9 L839.4,418.5 L843.0,418.1 L846.6,417.8 L850.2,417.4 L853.8,417.0 L857.4,416.6 L861.0,416.2 L864.6,415.7 L868.2,415.3 L871.8,414.9 L875.4,414.4 L879.0,413.9 L882.6,413.5 L886.2,413.0 L889.8,412.5 L893.5,412.0 L897.1,411.5 L900.7,411.0 L904.3,410.4 L907.9,409.9 L911.6,409.3 L915.2,408.8 L918.8,408.2 L922.5,407.6 L926.1,407.1 L929.7,406.5 L933.3,405.9 L937.0,405.3 L940.6,404.6 L944.2,404.0 L947.9,403.4 L951.5,402.7 L955.2,402.1 L958.8,401.4 L962.4,400.7 L966.1,400.0 L969.7,399.3 L973.4,398.6 L977.0,397.9 L980.7,397.2 L984.3,396.5 L988.0,395.7 L991.6,395.0 L995.3,394.3 L998.9,393.5 L1002.6,392.7 L1006.2,391.9 L1009.9,391.1 L1013.6,390.4 L1017.2,389.5 L1020.9,388.7 L1024.5,387.9 L1028.2,387.1 L1031.9,386.2 L1035.5,385.4 L1039.2,384.5 L1042.9,383.7 L1046.5,382.8 L1050.2,381.9 L1053.9,381.0 L1057.5,380.1 L1061.2,379.2 L1064.9,378.3 L1068.5,377.4 L1072.2,376.5 L1075.9,375.6 L1079.6,374.6 L1083.2,373.7 L1086.9,372.7 L1090.6,371.8 L1094.3,370.8 L1098.0,369.9 L1101.6,368.9 L1105.3,367.9 L1109.0,367.0 L1112.7,366.0 L1116.4,365.0 L1120.0,364.0 L1123.7,363.0 L1127.4,362.0 L1131.1,361.0 L1134.8,360.0 L1138.5,359.0 L1142.2,358.0 L1145.9,357.0 L1149.6,356.0 L1153.2,354.9 L1156.9,353.9 L1160.6,352.9 L1164.3,351.9 L1168.0,350.8 L1171.7,349.8 L1175.4,348.8 L1179.1,347.8 L1182.8,346.7 L1186.5,345.7 L1190.2,344.7 L1193.9,343.6 L1197.6,342.6 L1201.3,341.6 L1205.0,340.6 L1208.7,339.5 L1212.4,338.5 L1216.1,337.5 L1219.8,336.5 L1223.5,335.4 L1227.2,334.4 L1230.9,333.4 L1234.7,332.4 L1238.4,331.4 L1242.1,330.3 L1245.8,329.3 L1249.5,328.3 L1253.2,327.3 L1256.9,326.3 L1260.6,325.3 L1264.3,324.3 L1268.0,323.3 L1271.8,322.3 L1275.5,321.4 L1279.2,320.4 L1282.9,319.4 L1286.6,318.4 L1290.3,317.5 L1294.1,316.5 L1297.8,315.6 L1301.5,314.6 L1305.2,313.7 L1308.9,312.7 L1312.7,311.8 L1316.4,310.9 L1320.1,309.9 L1323.8,309.0 L1327.5,308.1 L1331.3,307.2 L1335.0,306.3 L1338.7,305.5 L1342.4,304.6 L1346.2,303.7 L1349.9,302.9 L1353.6,302.0 L1357.3,301.1 L1361.1,300.3 L1364.8,299.5 L1368.5,298.6 L1372.2,297.8 L1376.0,297.0 L1379.7,296.2 L1383.4,295.4 L1387.2,294.6 L1390.9,293.8 L1394.6,293.1 L1398.4,292.3 L1402.1,291.5 L1405.8,290.8 L1409.6,290.0 L1413.3,289.3 L1417.0,288.6 L1420.8,287.9 L1424.5,287.1 L1428.2,286.4 L1432.0,285.7 L1435.7,285.1 L1439.4,284.4 L1443.2,283.7 L1446.9,283.0 L1450.7,282.4 L1454.4,281.7 L1458.1,281.1 L1461.9,280.5 L1465.6,279.9 L1469.4,279.2 L1473.1,278.6 L1476.8,278.0 L1480.6,277.5 L1484.3,276.9 L1488.1,276.3 L1491.8,275.8 L1495.6,275.2 L1499.3,274.7 L1503.0,274.1 L1506.8,273.6 L1510.5,273.1 L1514.3,272.6 L1518.0,272.1 L1521.8,271.6 L1525.5,271.1 L1529.3,270.7 L1533.0,270.2 L1536.8,269.8 L1540.5,269.3 L1544.3,268.9 L1548.0,268.5 L1551.7,268.1 L1555.5,267.7 L1559.2,267.3 L1563.0,266.9 L1566.8,266.5 L1570.5,266.2 L1574.3,265.8 L1578.0,265.5 L1581.8,265.1 L1585.5,264.8 L1589.3,264.5 L1593.0,264.2 L1596.8,263.9 L1600.5,263.6 L1604.3,263.4 L1608.0,263.1 L1611.8,262.9 L1615.5,262.6 L1619.3,262.4 L1623.1,262.2 L1626.8,262.0 L1630.6,261.8 L1634.3,261.6 L1638.1,261.4 L1641.8,261.3 L1645.6,261.1 L1649.4,261.0 L1653.1,260.9 L1656.9,260.7 L1660.6,260.6 L1664.4,260.5 L1668.1,260.5 L1671.9,260.4 L1675.7,260.3 L1679.4,260.3 L1683.2,260.3 L1686.9,260.2 L1690.7,260.2 L1694.5,260.2 L1698.2,260.2 L1702.0,260.2 L1705.8,260.3 L1709.5,260.3 L1713.3,260.4 L1717.0,260.5 L1720.8,260.5 L1724.6,260.6 L1728.3,260.7 L1732.1,260.9 L1735.9,261.0 L1739.6,261.1 L1743.4,261.3 L1747.2,261.4 L1750.9,261.6 L1754.7,261.8 L1758.5,262.0 L1762.2,262.2 L1766.0,262.5 L1769.8,262.7 L1773.5,263.0 L1777.3,263.2 L1781.1,263.5 L1784.8,263.8 L1788.6,264.1 L1792.4,264.5 L1796.1,264.8 L1799.9,265.1 L1803.7,265.5 L1807.5,265.9 L1811.2,266.3 L1815.0,266.7 L1818.8,267.1 L1822.5,267.5 L1826.3,267.9 L1830.1,268.4 L1833.8,268.9 L1837.6,269.3 L1841.4,269.8 L1845.2,270.3 L1848.9,270.9 L1852.7,271.4 L1856.5,272.0 L1860.3,272.5 L1864.0,273.1 L1867.8,273.7"/>
</g>
<text class="tick" text-anchor="middle" transform="translate(202.0,498.4) scale(1,1.04)">0</text>
<text class="tick" text-anchor="middle" transform="translate(368.6,498.4) scale(1,1.04)">0.1</text>
<text class="tick" text-anchor="middle" transform="translate(535.2,498.4) scale(1,1.04)">0.2</text>
<text class="tick" text-anchor="middle" transform="translate(701.7,498.4) scale(1,1.04)">0.3</text>
<text class="tick" text-anchor="middle" transform="translate(868.3,498.4) scale(1,1.04)">0.4</text>
<text class="tick" text-anchor="middle" transform="translate(1034.9,498.4) scale(1,1.04)">0.5</text>
<text class="tick" text-anchor="middle" transform="translate(1201.5,498.4) scale(1,1.04)">0.6</text>
<text class="tick" text-anchor="middle" transform="translate(1368.1,498.4) scale(1,1.04)">0.7</text>
<text class="tick" text-anchor="middle" transform="translate(1534.6,498.4) scale(1,1.04)">0.8</text>
<text class="tick" text-anchor="middle" transform="translate(1701.2,498.4) scale(1,1.04)">0.9</text>
<text class="tick" text-anchor="middle" transform="translate(1867.8,498.4) scale(1,1.04)">1</text>
<text class="tick" text-anchor="end" transform="translate(187.7,120.7) scale(1,1.04)">0.1</text>
<text class="tick" text-anchor="end" transform="translate(187.7,204.5) scale(1,1.04)">0.05</text>
<text class="tick" text-anchor="end" transform="translate(187.7,288.4) scale(1,1.04)">0</text>
<text class="tick" text-anchor="end" transform="translate(187.7,372.2) scale(1,1.04)">-0.05</text>
<text class="tick" text-anchor="end" transform="translate(187.7,456.1) scale(1,1.04)">-0.1</text>
<text class="lab" text-anchor="middle" x="1035.5" y="554.8">x/c</text>
<text class="lab" text-anchor="middle" transform="translate(56.0,227.8) rotate(-90)">y/c</text>
<rect x="1401.3" y="39.6" width="446.7" height="119.8" fill="#fff" stroke="#262626" stroke-width="1.5"/>
<g stroke="#000" stroke-width="4.9" fill="none">
<line x1="1409.5" y1="70.6" x2="1557.4" y2="70.6" stroke-dasharray="20 19"/>
<line x1="1409.5" y1="127.2" x2="1557.4" y2="127.2"/>
</g>
<text class="leg" text-anchor="start" transform="translate(1563.0,88.0) scale(1,1.04)">OAT15A</text>
<text class="leg" text-anchor="start" transform="translate(1563.4,144.4) scale(1,1.04)" letter-spacing="-0.4">FFA-W3-211</text>
</svg>
</body>
</html>
